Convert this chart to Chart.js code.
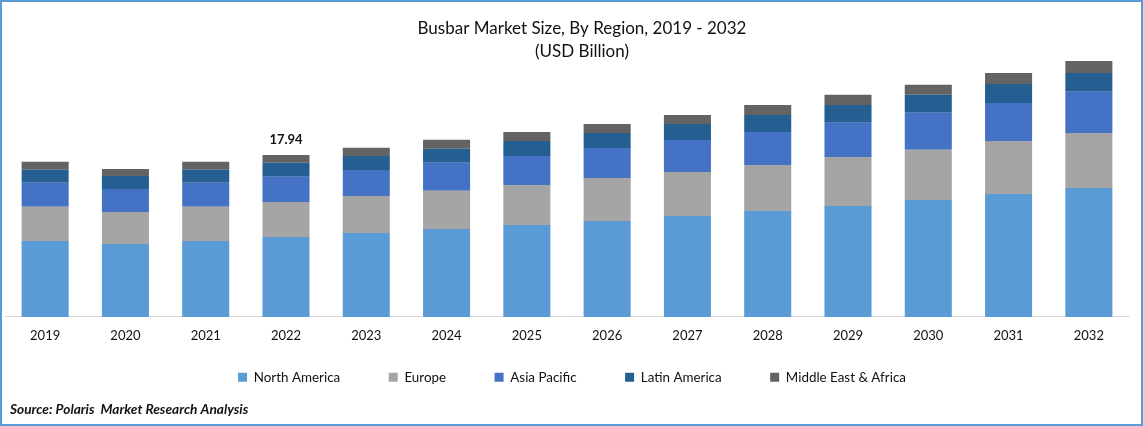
<!DOCTYPE html>
<html>
<head>
<meta charset="utf-8">
<title>Busbar Market Size</title>
<script src="https://cdn.jsdelivr.net/npm/chart.js@4"></script>
<style>
  html, body { margin: 0; padding: 0; background: #fff; }
  #cornice { width: 1143px; height: 426px; box-sizing: border-box; border: 2px solid #5b9bd5; background: #fff; position: relative; }
</style>
</head>
<body>
<div id="cornice"><canvas id="grafico"></canvas></div>
<script>
const anni = ["2019","2020","2021","2022","2023","2024","2025","2026","2027","2028","2029","2030","2031","2032"];
const northAmerica = [8.42, 8.08, 8.42, 8.86, 9.30, 9.75, 10.19, 10.63, 11.18, 11.74, 12.29, 12.96, 13.62, 14.29];
const europe = [3.77, 3.54, 3.77, 3.88, 4.10, 4.21, 4.43, 4.76, 4.87, 5.09, 5.43, 5.54, 5.87, 6.09];
const asiaPacific = [2.66, 2.55, 2.66, 2.77, 2.88, 3.10, 3.21, 3.32, 3.54, 3.65, 3.77, 4.10, 4.21, 4.54];
const latinAmerica = [1.44, 1.44, 1.44, 1.55, 1.55, 1.55, 1.66, 1.66, 1.77, 1.88, 1.99, 1.99, 2.10, 2.10];
const middleEast = [0.89, 0.78, 0.89, 0.88, 0.89, 1.00, 1.00, 1.00, 1.00, 1.11, 1.11, 1.11, 1.22, 1.33];
const annoEtichetta = "2022";
const testoEtichetta = "17.94";
const titolo = ["Busbar Market Size, By Region, 2019 - 2032", "(USD Billion)"];
const fonte = "Source: Polaris  Market Research Analysis";
const FONT = "Lato, 'Noto Sans', sans-serif";

function serie(label, data, colore) {
  return { label, data, backgroundColor: colore, borderWidth: 0, barPercentage: 0.586, categoryPercentage: 1 };
}

// sposta titolo, fonte e legenda dove stanno nell'originale
const ritocchi = {
  id: "ritocchi",
  afterLayout(chart) {
    chart.titleBlock.left += 15;
    chart.titleBlock.right += 15;
    chart.titleBlock.top += 4;
    chart.titleBlock.bottom += 4;
    chart.legend.top = 320;
    chart.legend.left += 5;
    chart.legend.right += 5;
    const box = chart.boxes.find(b => b.options && b.options.text === fonte);
    if (box) { box.left += 5; box.right += 5; }
  },
};

// etichetta del totale sopra la colonna 2022
const etichetta = {
  id: "etichetta",
  afterDatasetsDraw(chart) {
    const i = anni.indexOf(annoEtichetta);
    const barra = chart.getDatasetMeta(chart.data.datasets.length - 1).data[i];
    const ctx = chart.ctx;
    ctx.save();
    ctx.font = "bold 13px " + FONT;
    ctx.fillStyle = "#111";
    ctx.textAlign = "center";
    ctx.textBaseline = "bottom";
    ctx.fillText(testoEtichetta, barra.x, barra.y - 9);
    ctx.restore();
  },
};

new Chart(document.getElementById("grafico"), {
  type: "bar",
  data: {
    labels: anni,
    datasets: [
      serie("North America", northAmerica, "#5b9bd5"),
      serie("Europe", europe, "#a5a5a5"),
      serie("Asia Pacific", asiaPacific, "#4472c4"),
      serie("Latin America", latinAmerica, "#255e91"),
      serie("Middle East & Africa", middleEast, "#636363"),
    ],
  },
  options: {
    responsive: true,
    maintainAspectRatio: false,
    animation: false,
    layout: { padding: { left: 3, right: 12, top: 0, bottom: 0 } },
    scales: {
      x: {
        stacked: true,
        grid: { display: false, drawTicks: false },
        border: { color: "#d9d9d9", width: 1 },
        ticks: { color: "#111", font: { family: FONT, size: 13 }, padding: 11, maxRotation: 0 },
      },
      y: { stacked: true, display: false, min: 0, max: 28.57 },
    },
    plugins: {
      title: {
        display: true,
        text: titolo,
        color: "#111",
        font: { family: FONT, size: 17, weight: "normal", lineHeight: 1.35 },
        padding: { top: 11, bottom: 0 },
      },
      subtitle: {
        display: true,
        position: "bottom",
        align: "start",
        text: fonte,
        color: "#111",
        font: { family: FONT, size: 13.7, weight: "bold", style: "italic" },
        padding: { top: 0, bottom: 6 },
      },
      legend: {
        position: "bottom",
        maxHeight: 47,
        labels: {
          color: "#111",
          font: { family: FONT, size: 13.4 },
          boxWidth: 9,
          boxHeight: 9,
          padding: 48.5,
        },
      },
      tooltip: { enabled: false },
    },
  },
  plugins: [ritocchi, etichetta],
});
</script>
</body>
</html>
